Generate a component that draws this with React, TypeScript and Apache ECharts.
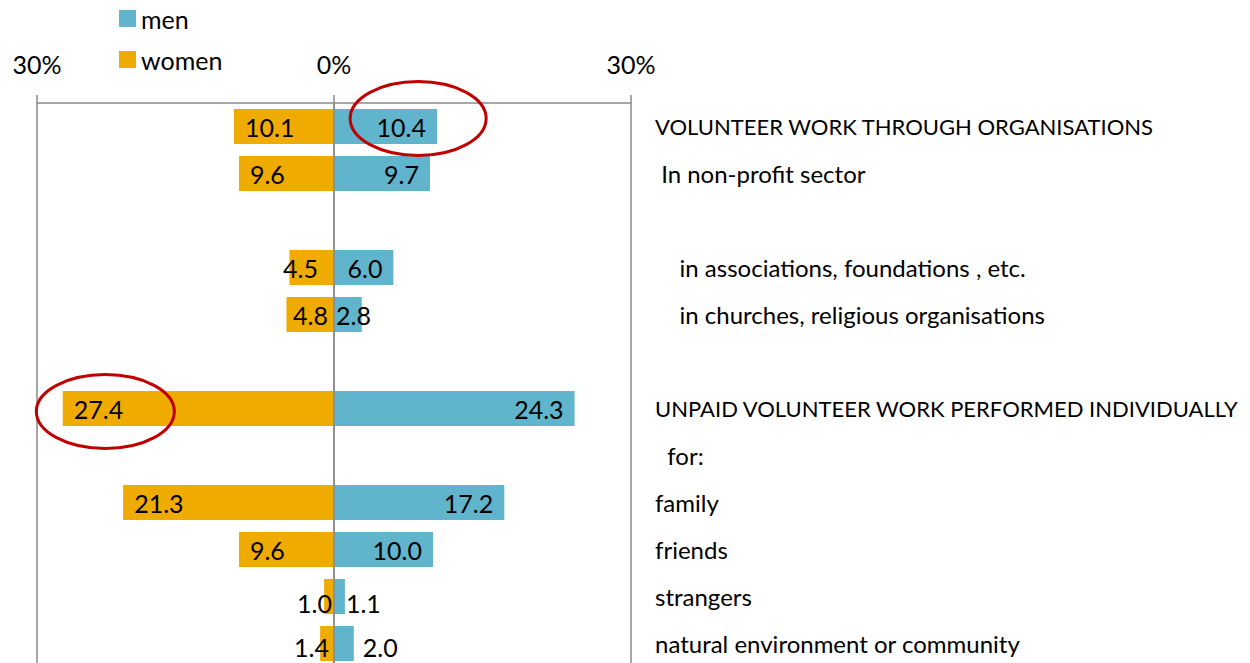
import React, { useEffect, useRef } from "react";
import * as echarts from "echarts";

const categories = [
  "VOLUNTEER WORK THROUGH ORGANISATIONS",
  " In non-profit sector",
  "",
  "    in associations, foundations , etc.",
  "    in churches, religious organisations",
  "",
  "UNPAID VOLUNTEER WORK PERFORMED INDIVIDUALLY",
  "  for:",
  "family",
  "friends",
  "strangers",
  "natural environment or community",
];
const menValues = [10.4, 9.7, null, 6.0, 2.8, null, 24.3, null, 17.2, 10.0, 1.1, 2.0];
const womenValues = [10.1, 9.6, null, 4.5, 4.8, null, 27.4, null, 21.3, 9.6, 1.0, 1.4];
const axisTicks = [-30, 0, 30];

const MEN_COLOR = "#60B4CC";
const WOMEN_COLOR = "#F0AB00";
const GRID_COLOR = "#8A8A8A";
const FONT = "Lato";

// label placement tweaks for small bars (style only)
const menLabelTweaks: Record<number, any> = {
  4: { position: "insideLeft", distance: 2 },
  10: { position: "right", distance: 1, offset: [0, 6] },
  11: { position: "right", distance: 9, offset: [0, 3] },
};
const womenLabelTweaks: Record<number, any> = {
  3: { position: "insideRight", distance: 16 },
  4: { position: "insideRight", distance: 6 },
  10: { position: "insideRight", distance: 2, offset: [0, 6] },
  11: { position: "insideRight", distance: 5, offset: [0, 3] },
};

export default function App() {
  const ref = useRef<HTMLDivElement>(null);
  useEffect(() => {
    if (!ref.current) return;
    const chart = echarts.init(ref.current, null, { renderer: "svg" });
    const labelFmt = (p: any) => Math.abs(p.value).toFixed(1);
    const menData = menValues.map((v, i) =>
      v == null ? "-" : { value: v, label: menLabelTweaks[i] || {} }
    );
    const womenData = womenValues.map((v, i) =>
      v == null ? "-" : { value: -v, label: womenLabelTweaks[i] || {} }
    );
    chart.setOption({
      animation: false,
      textStyle: { fontFamily: FONT },
      legend: {
        orient: "vertical",
        left: 114,
        top: 1,
        itemWidth: 17,
        itemHeight: 17,
        itemGap: 16,
        icon: "rect",
        data: ["men", "women"],
        textStyle: { fontSize: 25, lineHeight: 25, color: "#000", fontFamily: FONT },
      },
      grid: {
        left: 37,
        right: 619,
        top: 103,
        bottom: -4,
        containLabel: false,
        outerBoundsMode: "none",
      },
      xAxis: {
        type: "value",
        position: "top",
        min: axisTicks[0],
        max: axisTicks[axisTicks.length - 1],
        interval: 30,
        axisLine: { show: true, lineStyle: { color: GRID_COLOR, width: 1.5 } },
        axisTick: { show: true, length: 8, lineStyle: { color: GRID_COLOR, width: 1.5 } },
        splitLine: { show: true, lineStyle: { color: GRID_COLOR, width: 1.5 } },
        axisLabel: {
          margin: 27,
          fontSize: 25,
          color: "#000",
          fontFamily: FONT,
          formatter: (v: number) => Math.abs(v) + "%",
        },
      },
      yAxis: {
        type: "category",
        inverse: true,
        position: "right",
        data: categories,
        axisLine: { show: false },
        axisTick: { show: false },
        splitLine: { show: false },
        axisLabel: {
          margin: 24,
          align: "left",
          fontSize: 24,
          color: "#000",
          fontFamily: FONT,
          interval: 0,
          formatter: (v: string) =>
            v && v === v.toUpperCase() && /[A-Z]/.test(v) ? "{caps|" + v + "}" : v,
          rich: {
            caps: { fontSize: 22, color: "#000", fontFamily: FONT },
          },
        },
      },
      series: [
        {
          name: "men",
          type: "bar",
          stack: "total",
          barWidth: 35,
          itemStyle: { color: MEN_COLOR },
          label: {
            show: true,
            position: "insideRight",
            distance: 11,
            fontSize: 25,
            color: "#000",
            fontFamily: FONT,
            formatter: labelFmt,
          },
          data: menData,
        },
        {
          name: "women",
          type: "bar",
          stack: "total",
          barWidth: 35,
          itemStyle: { color: WOMEN_COLOR },
          label: {
            show: true,
            position: "insideLeft",
            distance: 11,
            fontSize: 25,
            color: "#000",
            fontFamily: FONT,
            formatter: labelFmt,
          },
          data: womenData,
          markLine: {
            silent: true,
            symbol: "none",
            z: 5,
            label: { show: false },
            lineStyle: { color: GRID_COLOR, type: "solid", width: 1.5 },
            data: [{ xAxis: 0 }],
          },
        },
      ],
    });
    const p1 = chart.convertToPixel({ gridIndex: 0 }, [8.5, 0]) as number[];
    const p2 = chart.convertToPixel({ gridIndex: 0 }, [-23.1, 6]) as number[];
    chart.setOption({
      graphic: [
        {
          type: "ellipse",
          z: 100,
          shape: { cx: p1[0], cy: p1[1] - 8, rx: 68, ry: 37 },
          style: { fill: "none", stroke: "#C00000", lineWidth: 3 },
        },
        {
          type: "ellipse",
          z: 100,
          shape: { cx: p2[0], cy: p2[1] + 3, rx: 69, ry: 37 },
          style: { fill: "none", stroke: "#C00000", lineWidth: 3 },
        },
      ],
    });
    return () => chart.dispose();
  }, []);
  return (
    <div
      ref={ref}
      style={{ position: "absolute", left: 0, top: 0, width: 1250, height: 663 }}
    />
  );
}
